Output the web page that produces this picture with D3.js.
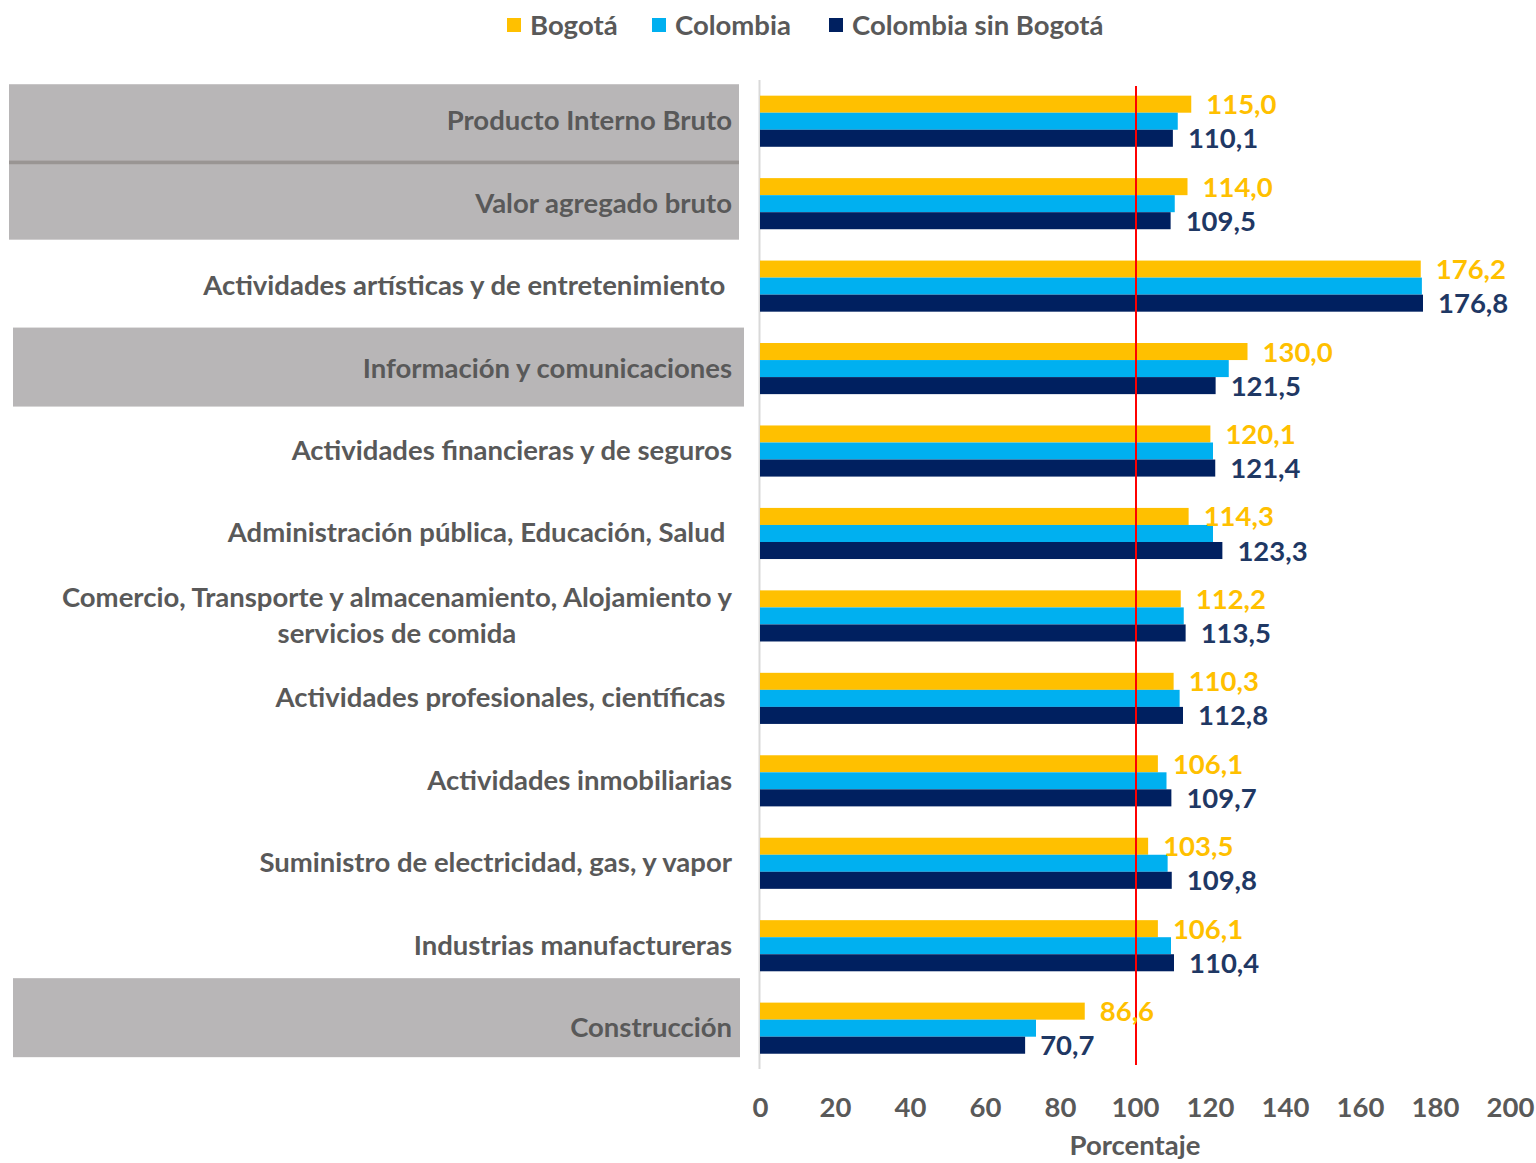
<!DOCTYPE html>
<html lang="es">
<head>
  <meta charset="UTF-8">
  <title>Bogotá vs Colombia</title>
  <script src="https://d3js.org/d3.v7.min.js"></script>
  <style>
    body { margin: 0; padding: 0; background: #fff; font-family: 'Lato', 'Open Sans', sans-serif; }
    text { font-weight: bold; }
  </style>
</head>
<body>
  <div id="chart"></div>
  <script>
    // categorias (de arriba hacia abajo)
    const categories = [
      'Producto Interno Bruto',
      'Valor agregado bruto',
      'Actividades artísticas y de entretenimiento ',
      'Información y comunicaciones',
      'Actividades financieras y de seguros',
      'Administración pública, Educación, Salud ',
      'Comercio, Transporte y almacenamiento, Alojamiento y|servicios de comida',
      'Actividades profesionales, científicas ',
      'Actividades inmobiliarias',
      'Suministro de electricidad, gas, y vapor',
      'Industrias manufactureras',
      'Construcción'
    ];
    const seriesNames = ['Bogotá', 'Colombia', 'Colombia sin Bogotá'];
    const bogota = [115.0, 114.0, 176.2, 130.0, 120.1, 114.3, 112.2, 110.3, 106.1, 103.5, 106.1, 86.6];
    const colombia = [111.4, 110.6, 176.5, 125.0, 120.8, 120.8, 113.0, 111.9, 108.4, 108.7, 109.6, 73.6];
    const colombiaSinBogota = [110.1, 109.5, 176.8, 121.5, 121.4, 123.3, 113.5, 112.8, 109.7, 109.8, 110.4, 70.7];
    const xTicks = [0, 20, 40, 60, 80, 100, 120, 140, 160, 180, 200];

    const colors = ['#FFC000', '#00B0F0', '#002060'];
    const labelColors = ['#FFC000', null, '#1F3864'];
    const W = 1536, H = 1163;
    const left = 760, right = 1510;
    const fs = 27.5;

    const svg = d3.select('#chart').append('svg')
      .attr('width', W).attr('height', H);

    const x = d3.scaleLinear().domain([0, 200]).range([left, right]);
    const y = d3.scaleBand().domain(categories)
      .range([80, 1069.4]).paddingInner(0.38).paddingOuter(0.19);
    const ySub = d3.scaleBand().domain(d3.range(3)).range([0, y.bandwidth()]);

    const values = [bogota, colombia, colombiaSinBogota];

    // cajas grises detras de algunas etiquetas
    const boxes = [
      { cat: categories[0], x0: 9, x1: 739, top: -37, bottom: 39 },
      { cat: categories[1], x0: 9, x1: 739, top: -40, bottom: 36 },
      { cat: categories[3], x0: 13, x1: 744, top: -41, bottom: 38 },
      { cat: categories[11], x0: 13, x1: 740, top: -50, bottom: 29 }
    ];
    svg.append('g').selectAll('rect').data(boxes).join('rect')
      .attr('x', d => d.x0)
      .attr('y', d => y(d.cat) + y.bandwidth() / 2 + d.top)
      .attr('width', d => d.x1 - d.x0)
      .attr('height', d => d.bottom - d.top)
      .attr('fill', '#B8B6B7');
    // separador entre PIB y VAB
    svg.append('rect')
      .attr('x', 9).attr('width', 730)
      .attr('y', y(categories[0]) + y.bandwidth() / 2 + 39).attr('height', 4)
      .attr('fill', '#999593');

    // eje vertical
    svg.append('line')
      .attr('x1', x(0) - 0.5).attr('x2', x(0) - 0.5)
      .attr('y1', 80).attr('y2', 1069)
      .attr('stroke', '#D9D9D9').attr('stroke-width', 2);

    // barras
    values.forEach((vals, s) => {
      svg.append('g').selectAll('rect').data(categories).join('rect')
        .attr('x', x(0))
        .attr('y', c => y(c) + ySub(s))
        .attr('width', (c, i) => x(vals[i]) - x(0))
        .attr('height', ySub.bandwidth())
        .attr('fill', colors[s]);
    });

    // linea de referencia en 100
    svg.append('line')
      .attr('x1', x(100) + 1).attr('x2', x(100) + 1)
      .attr('y1', 86).attr('y2', 1065)
      .attr('stroke', '#FF0000').attr('stroke-width', 2);

    // etiquetas de datos
    [0, 2].forEach(s => {
      svg.append('g').selectAll('text').data(categories).join('text')
        .attr('x', (c, i) => x(values[s][i]) + 15)
        .attr('y', c => y(c) + ySub(s) + ySub.bandwidth() / 2 + 10)
        .attr('fill', labelColors[s])
        .attr('font-size', fs)
        .text((c, i) => values[s][i].toFixed(1).replace('.', ','));
    });

    // etiquetas de categorias
    const catG = svg.append('g');
    categories.forEach(c => {
      const lines = c.split('|');
      const cy = y(c) + y.bandwidth() / 2;
      if (lines.length === 1) {
        catG.append('text')
          .attr('x', 732).attr('y', cy + 9)
          .attr('text-anchor', 'end')
          .attr('fill', '#595959').attr('font-size', fs)
          .style('white-space', 'pre')
          .text(c);
      } else {
        const t0 = catG.append('text')
          .attr('x', 732).attr('y', cy - 9)
          .attr('text-anchor', 'end')
          .attr('fill', '#595959').attr('font-size', fs)
          .text(lines[0]);
        const w = t0.node().getComputedTextLength();
        catG.append('text')
          .attr('x', 732 - w / 2).attr('y', cy + 27)
          .attr('text-anchor', 'middle')
          .attr('fill', '#595959').attr('font-size', fs)
          .text(lines[1]);
      }
    });

    // eje x
    const xAxis = svg.append('g')
      .attr('transform', `translate(0,${1117})`)
      .call(d3.axisBottom(x).tickValues(xTicks).tickSize(0).tickPadding(0));
    xAxis.select('.domain').remove();
    xAxis.selectAll('text')
      .attr('fill', '#595959').attr('font-size', fs)
      .attr('font-family', "'Lato', sans-serif")
      .attr('dy', 0);

    svg.append('text')
      .attr('x', x(100)).attr('y', 1155)
      .attr('text-anchor', 'middle')
      .attr('fill', '#595959').attr('font-size', fs)
      .text('Porcentaje');

    // leyenda
    const legendPos = [507, 652, 829];
    const lg = svg.append('g').selectAll('g').data(seriesNames).join('g')
      .attr('transform', (d, i) => `translate(${legendPos[i]},18)`);
    lg.append('rect').attr('width', 14).attr('height', 14)
      .attr('fill', (d, i) => colors[i]);
    lg.append('text').attr('x', 23).attr('y', 17)
      .attr('fill', '#595959').attr('font-size', fs)
      .text(d => d);
  </script>
</body>
</html>
